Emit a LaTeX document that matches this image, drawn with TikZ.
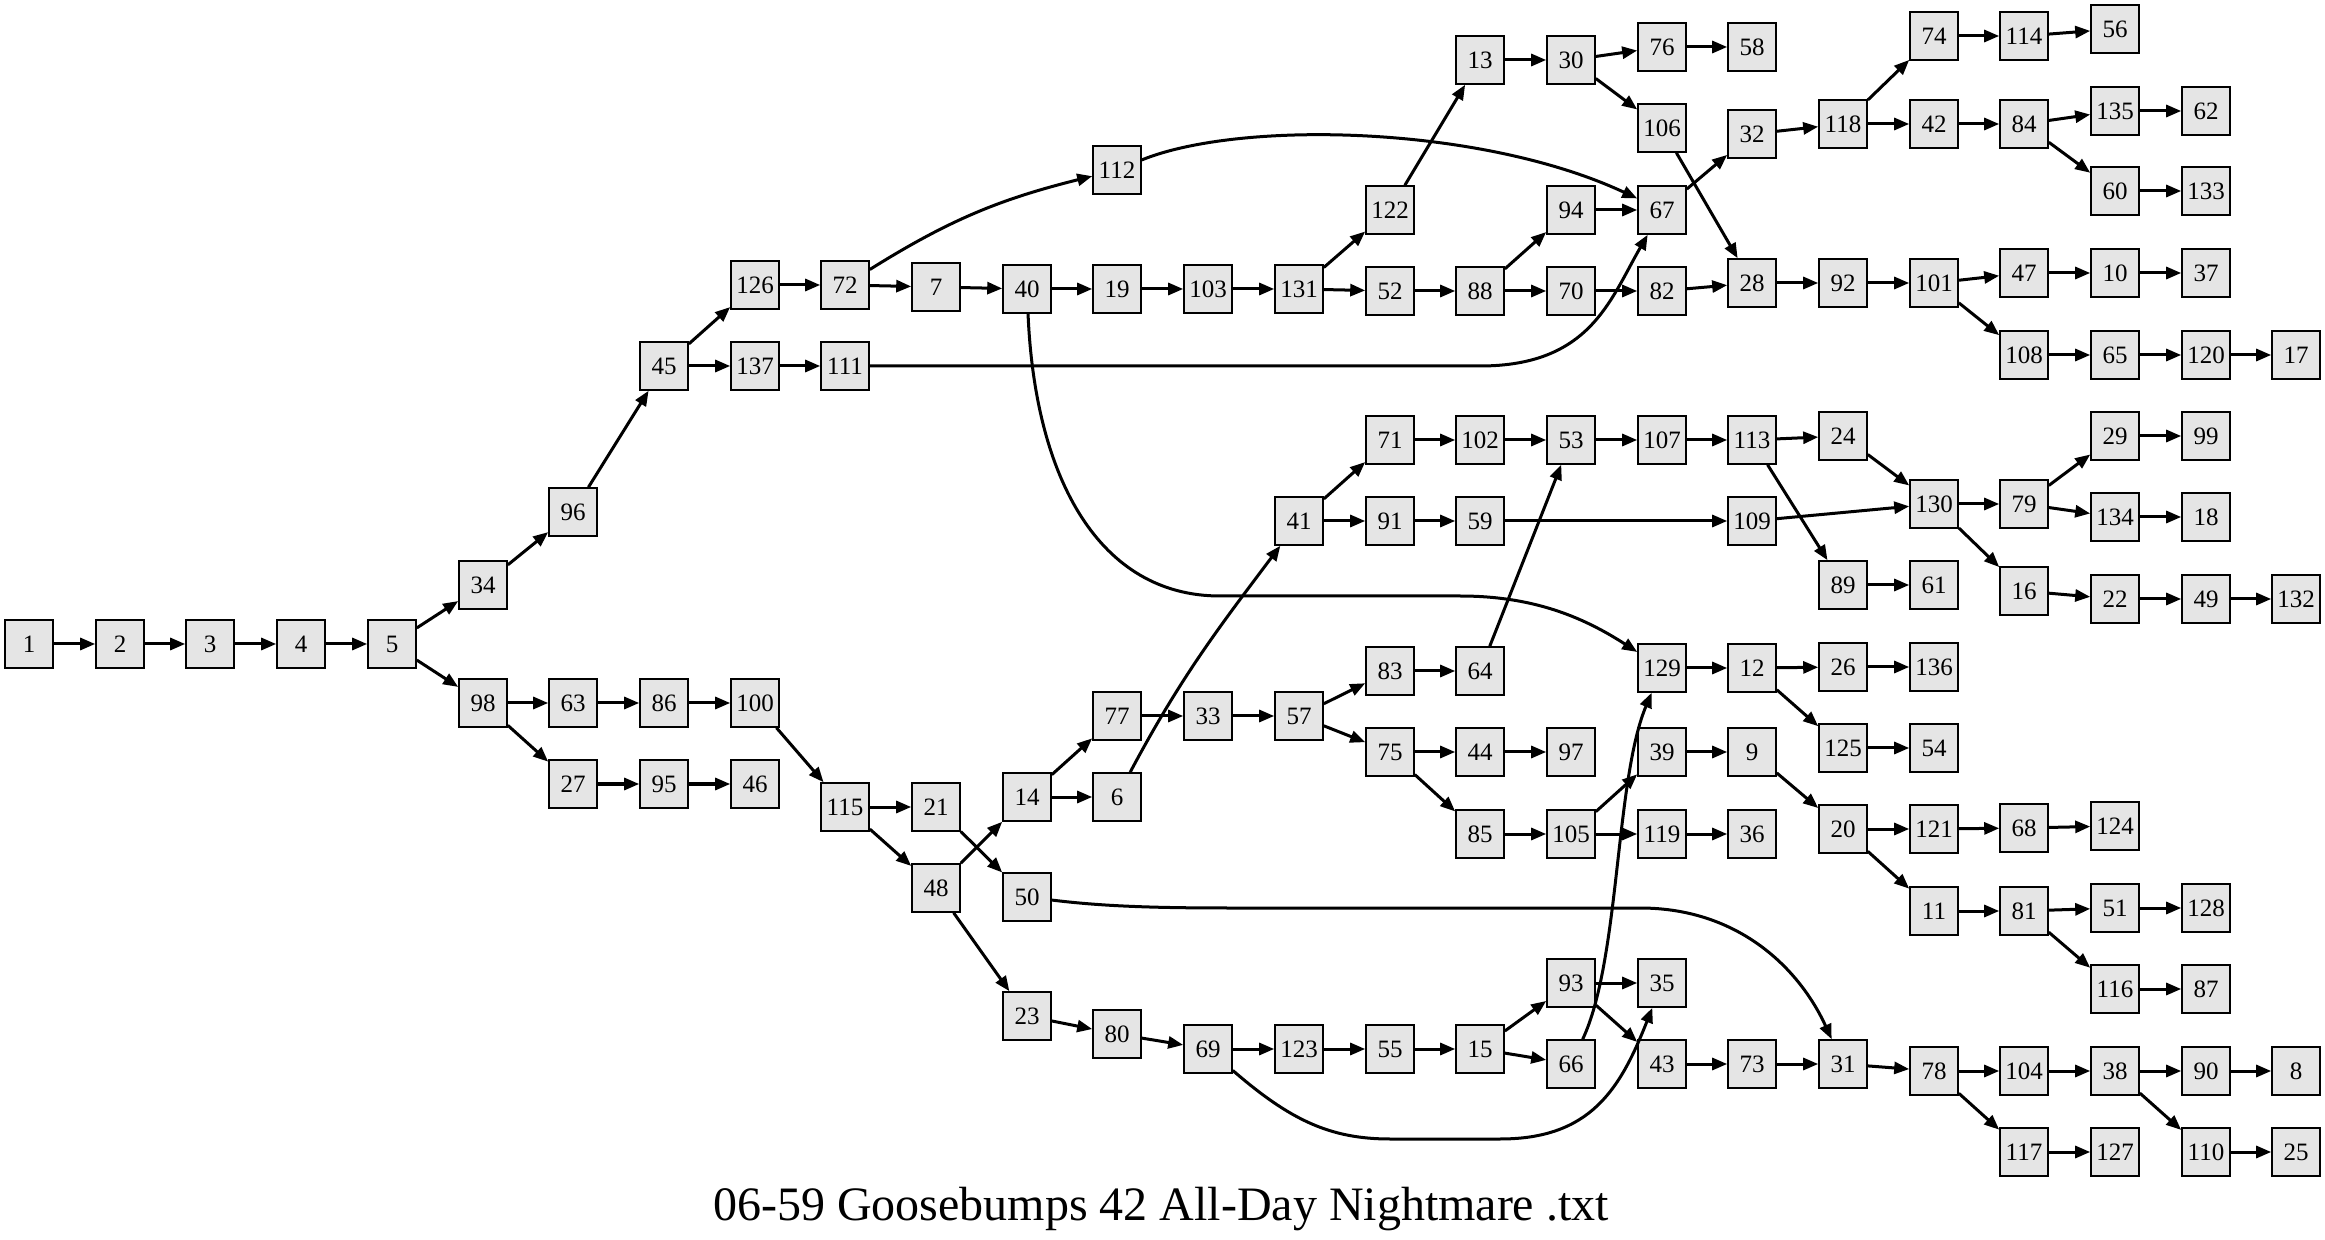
\documentclass[tikz,border=0pt]{standalone}
\usepackage{fontspec}
\setmainfont{Liberation Serif}
\usetikzlibrary{arrows.meta}

\begin{document}
\begin{tikzpicture}[
x=0.5pt, y=0.5pt,
every node/.style={
    rectangle,
    draw,
    line width=0.8pt,
    fill=black!10,
    minimum width=24pt,
    minimum height=24pt,
    inner sep=0pt,
    font=\fontsize{12.5}{15}\selectfont
},
link/.style={-{Triangle[length=7.5pt,width=6pt]}, line width=1.5pt}
]

\useasboundingbox (0,0) rectangle (2325,-1240);

%---------------- Start ----------------
\node (n1) at (29,-644) {1};
\node (n2) at (120,-644) {2};
\node (n3) at (210,-644) {3};
\node (n4) at (301,-644) {4};
\node (n5) at (392,-644) {5};
\node (n34) at (483,-585) {34};
\node (n98) at (483,-703) {98};
\node (n96) at (573,-512) {96};
\node (n63) at (573,-703) {63};
\node (n27) at (573,-784) {27};
\node (n45) at (664,-366) {45};
\node (n86) at (664,-703) {86};
\node (n95) at (664,-784) {95};
\node (n126) at (755,-285) {126};
\node (n137) at (755,-366) {137};
\node (n100) at (755,-703) {100};
\node (n46) at (755,-784) {46};
\node (n72) at (845,-285) {72};
\node (n111) at (845,-366) {111};
\node (n115) at (845,-807) {115};
\node (n7) at (936,-287) {7};
\node (n21) at (936,-807) {21};
\node (n48) at (936,-888) {48};
\node (n40) at (1027,-289) {40};
\node (n14) at (1027,-797) {14};
\node (n50) at (1027,-897) {50};
\node (n23) at (1027,-1016) {23};
\node (n112) at (1117,-170) {112};
\node (n19) at (1117,-289) {19};
\node (n77) at (1117,-716) {77};
\node (n6) at (1117,-797) {6};
\node (n80) at (1117,-1034) {80};
\node (n103) at (1208,-289) {103};
\node (n33) at (1208,-716) {33};
\node (n69) at (1208,-1049) {69};

%---------------- Middle ----------------
\node (n131) at (1299,-289) {131};
\node (n41) at (1299,-521) {41};
\node (n57) at (1299,-716) {57};
\node (n123) at (1299,-1049) {123};
\node (n122) at (1390,-210) {122};
\node (n52) at (1390,-291) {52};
\node (n71) at (1390,-440) {71};
\node (n91) at (1390,-521) {91};
\node (n83) at (1390,-671) {83};
\node (n75) at (1390,-752) {75};
\node (n55) at (1390,-1049) {55};
\node (n13) at (1480,-60) {13};
\node (n88) at (1480,-291) {88};
\node (n102) at (1480,-440) {102};
\node (n59) at (1480,-521) {59};
\node (n64) at (1480,-671) {64};
\node (n44) at (1480,-752) {44};
\node (n85) at (1480,-834) {85};
\node (n15) at (1480,-1049) {15};
\node (n30) at (1571,-60) {30};
\node (n94) at (1571,-210) {94};
\node (n70) at (1571,-291) {70};
\node (n53) at (1571,-440) {53};
\node (n97) at (1571,-752) {97};
\node (n105) at (1571,-834) {105};
\node (n93) at (1571,-983) {93};
\node (n66) at (1571,-1064) {66};
\node (n76) at (1662,-47) {76};
\node (n106) at (1662,-128) {106};
\node (n67) at (1662,-210) {67};
\node (n82) at (1662,-291) {82};
\node (n107) at (1662,-440) {107};
\node (n129) at (1662,-668) {129};
\node (n39) at (1662,-752) {39};
\node (n119) at (1662,-834) {119};
\node (n35) at (1662,-983) {35};
\node (n43) at (1662,-1064) {43};
\node (n58) at (1752,-47) {58};
\node (n32) at (1752,-134) {32};
\node (n28) at (1752,-283) {28};
\node (n113) at (1752,-440) {113};
\node (n109) at (1752,-521) {109};
\node (n12) at (1752,-668) {12};
\node (n9) at (1752,-752) {9};
\node (n36) at (1752,-834) {36};
\node (n73) at (1752,-1064) {73};

%---------------- End ----------------
\node (n118) at (1843,-124) {118};
\node (n92) at (1843,-283) {92};
\node (n24) at (1843,-436) {24};
\node (n89) at (1843,-585) {89};
\node (n26) at (1843,-667) {26};
\node (n125) at (1843,-748) {125};
\node (n20) at (1843,-829) {20};
\node (n31) at (1843,-1064) {31};
\node (n74) at (1934,-36) {74};
\node (n42) at (1934,-124) {42};
\node (n101) at (1934,-283) {101};
\node (n130) at (1934,-504) {130};
\node (n61) at (1934,-585) {61};
\node (n136) at (1934,-667) {136};
\node (n54) at (1934,-748) {54};
\node (n121) at (1934,-829) {121};
\node (n11) at (1934,-911) {11};
\node (n78) at (1934,-1071) {78};
\node (n114) at (2024,-36) {114};
\node (n84) at (2024,-124) {84};
\node (n47) at (2024,-273) {47};
\node (n108) at (2024,-355) {108};
\node (n79) at (2024,-504) {79};
\node (n16) at (2024,-591) {16};
\node (n68) at (2024,-828) {68};
\node (n81) at (2024,-911) {81};
\node (n104) at (2024,-1071) {104};
\node (n117) at (2024,-1152) {117};
\node (n56) at (2115,-29) {56};
\node (n135) at (2115,-111) {135};
\node (n60) at (2115,-191) {60};
\node (n10) at (2115,-273) {10};
\node (n65) at (2115,-355) {65};
\node (n29) at (2115,-436) {29};
\node (n134) at (2115,-517) {134};
\node (n22) at (2115,-599) {22};
\node (n124) at (2115,-826) {124};
\node (n51) at (2115,-908) {51};
\node (n116) at (2115,-989) {116};
\node (n38) at (2115,-1071) {38};
\node (n127) at (2115,-1152) {127};
\node (n62) at (2206,-111) {62};
\node (n133) at (2206,-191) {133};
\node (n37) at (2206,-273) {37};
\node (n120) at (2206,-355) {120};
\node (n99) at (2206,-436) {99};
\node (n18) at (2206,-517) {18};
\node (n49) at (2206,-599) {49};
\node (n128) at (2206,-908) {128};
\node (n87) at (2206,-989) {87};
\node (n90) at (2206,-1071) {90};
\node (n110) at (2206,-1152) {110};
\node (n17) at (2296,-355) {17};
\node (n132) at (2296,-599) {132};
\node (n8) at (2296,-1071) {8};
\node (n25) at (2296,-1152) {25};

\node[draw=none, fill=none, anchor=base, font=\fontsize{24}{29}\selectfont] (title) at (1161,-1220) {06-59 Goosebumps 42 All-Day Nightmare .txt};

%---------------- Upper links ----------------
\draw[link] (n1)--(n2);
\draw[link] (n2)--(n3);
\draw[link] (n3)--(n4);
\draw[link] (n4)--(n5);
\draw[link] (n5)--(n34);
\draw[link] (n5)--(n98);
\draw[link] (n34)--(n96);
\draw[link] (n96)--(n45);
\draw[link] (n45)--(n126);
\draw[link] (n45)--(n137);
\draw[link] (n126)--(n72);
\draw[link] (n72)--(n7);
\draw[link] (n7)--(n40);
\draw[link] (n137)--(n111);
\draw[link] (n40)--(n19);
\draw[link] (n19)--(n103);
\draw[link] (n103)--(n131);
\draw[link] (n131)--(n122);
\draw[link] (n131)--(n52);
\draw[link] (n122)--(n13);
\draw[link] (n13)--(n30);
\draw[link] (n30)--(n76);
\draw[link] (n30)--(n106);
\draw[link] (n76)--(n58);
\draw[link] (n106)--(n28);
\draw[link] (n52)--(n88);
\draw[link] (n88)--(n94);
\draw[link] (n88)--(n70);
\draw[link] (n94)--(n67);
\draw[link] (n70)--(n82);
\draw[link] (n82)--(n28);
\draw[link] (n67)--(n32);
\draw[link] (n32)--(n118);
\draw[link] (n118)--(n74);
\draw[link] (n118)--(n42);
\draw[link] (n74)--(n114);
\draw[link] (n114)--(n56);
\draw[link] (n42)--(n84);
\draw[link] (n84)--(n135);
\draw[link] (n84)--(n60);
\draw[link] (n135)--(n62);
\draw[link] (n60)--(n133);
\draw[link] (n28)--(n92);
\draw[link] (n92)--(n101);
\draw[link] (n101)--(n47);
\draw[link] (n101)--(n108);
\draw[link] (n47)--(n10);
\draw[link] (n10)--(n37);
\draw[link] (n108)--(n65);
\draw[link] (n65)--(n120);
\draw[link] (n120)--(n17);

%---------------- Lower links ----------------
\draw[link] (n98)--(n63);
\draw[link] (n98)--(n27);
\draw[link] (n63)--(n86);
\draw[link] (n86)--(n100);
\draw[link] (n100)--(n115);
\draw[link] (n27)--(n95);
\draw[link] (n95)--(n46);
\draw[link] (n115)--(n21);
\draw[link] (n115)--(n48);
\draw[link] (n21)--(n50);
\draw[link] (n48)--(n14);
\draw[link] (n48)--(n23);
\draw[link] (n14)--(n77);
\draw[link] (n14)--(n6);
\draw[link] (n41)--(n71);
\draw[link] (n41)--(n91);
\draw[link] (n71)--(n102);
\draw[link] (n102)--(n53);
\draw[link] (n53)--(n107);
\draw[link] (n107)--(n113);
\draw[link] (n113)--(n24);
\draw[link] (n113)--(n89);
\draw[link] (n24)--(n130);
\draw[link] (n89)--(n61);
\draw[link] (n91)--(n59);
\draw[link] (n59)--(n109);
\draw[link] (n109)--(n130);
\draw[link] (n130)--(n79);
\draw[link] (n130)--(n16);
\draw[link] (n79)--(n29);
\draw[link] (n79)--(n134);
\draw[link] (n29)--(n99);
\draw[link] (n134)--(n18);
\draw[link] (n16)--(n22);
\draw[link] (n22)--(n49);
\draw[link] (n49)--(n132);
\draw[link] (n77)--(n33);
\draw[link] (n33)--(n57);
\draw[link] (n57)--(n83);
\draw[link] (n57)--(n75);
\draw[link] (n83)--(n64);
\draw[link] (n64)--(n53);
\draw[link] (n75)--(n44);
\draw[link] (n75)--(n85);
\draw[link] (n44)--(n97);
\draw[link] (n85)--(n105);
\draw[link] (n105)--(n39);
\draw[link] (n105)--(n119);
\draw[link] (n119)--(n36);
\draw[link] (n39)--(n9);
\draw[link] (n9)--(n20);
\draw[link] (n20)--(n121);
\draw[link] (n20)--(n11);
\draw[link] (n121)--(n68);
\draw[link] (n68)--(n124);
\draw[link] (n11)--(n81);
\draw[link] (n81)--(n51);
\draw[link] (n81)--(n116);
\draw[link] (n51)--(n128);
\draw[link] (n116)--(n87);
\draw[link] (n129)--(n12);
\draw[link] (n12)--(n26);
\draw[link] (n12)--(n125);
\draw[link] (n26)--(n136);
\draw[link] (n125)--(n54);
\draw[link] (n23)--(n80);
\draw[link] (n80)--(n69);
\draw[link] (n69)--(n123);
\draw[link] (n123)--(n55);
\draw[link] (n55)--(n15);
\draw[link] (n15)--(n93);
\draw[link] (n15)--(n66);
\draw[link] (n93)--(n35);
\draw[link] (n93)--(n43);
\draw[link] (n43)--(n73);
\draw[link] (n73)--(n31);
\draw[link] (n31)--(n78);
\draw[link] (n78)--(n104);
\draw[link] (n78)--(n117);
\draw[link] (n104)--(n38);
\draw[link] (n38)--(n90);
\draw[link] (n38)--(n110);
\draw[link] (n90)--(n8);
\draw[link] (n110)--(n25);
\draw[link] (n117)--(n127);

%---------------- Long curved links ----------------
\draw[link] (n72) to[out=32,in=194] (n112);
\draw[link] (n112) .. controls (1240,-120) and (1480,-125) .. (n67);
\draw[link] (n111) -- (1480,-366) .. controls (1590,-366) and (1610,-300) .. (n67);
\draw[link] (n40) .. controls (1035,-480) and (1100,-596) .. (1220,-596) -- (1460,-596) .. controls (1530,-596) and (1580,-615) .. (n129);
\draw[link] (n66) .. controls (1620,-960) and (1615,-780) .. (n129);
\draw[link] (n69) .. controls (1290,-1120) and (1330,-1139) .. (1390,-1139) -- (1500,-1139) .. controls (1590,-1139) and (1620,-1090) .. (n35);
\draw[link] (n50) .. controls (1100,-906) and (1150,-908) .. (1230,-908) -- (1640,-908) .. controls (1740,-908) and (1800,-970) .. (n31);
\draw[link] (n6) to[out=62,in=233] (n41);

\end{tikzpicture}
\end{document}
